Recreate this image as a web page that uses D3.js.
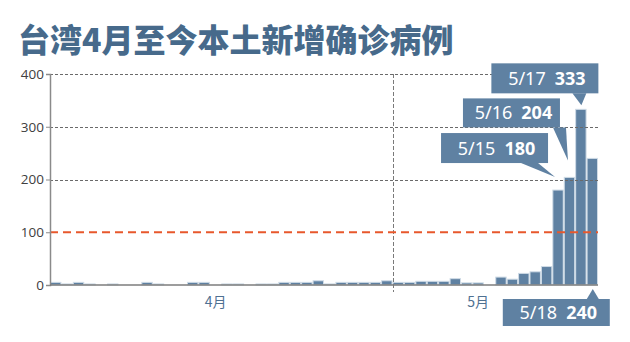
<!DOCTYPE html>
<html>
<head>
<meta charset="utf-8">
<script src="https://cdn.jsdelivr.net/npm/d3@7"></script>
<style>
  body { margin: 0; background: #fff; }
  svg { display: block; }
</style>
</head>
<body>
<svg id="chart" width="630" height="342"></svg>
<script>
const WIDTH = 630;
const HEIGHT = 342;
const MARGIN_LEFT = 50;
const MARGIN_RIGHT = 32;
const MARGIN_TOP = 74;
const MARGIN_BOT = 57;
const BAR_COLOR = "#5f81a2";
const BAR_STROKE = "#cfdbe6";
const TITLE_COLOR = "#476a8b";
const LINE_RED = "#e8582c";

// data
const title = "台湾4月至今本土新增确诊病例";
const days = d3.timeDay.range(new Date(2021, 3, 1), new Date(2021, 4, 19));   // 4/1 .. 5/18
const cases = [
	5, 2, 5, 2, 0, 2, 0, 0, 5, 2,
	0, 0, 5, 5, 0, 2, 2, 0, 2, 2,
	5, 5, 5, 8, 2, 5, 5, 5, 5, 8,
	5, 5, 7, 7, 7, 12, 4, 4, 0, 15,
	11, 22, 25, 35, 180, 204, 333, 240
];
const yTicks = [0, 100, 200, 300, 400];
const threshold = 100;
const monthLabels = ["4月", "5月"];
const monthLabelDays = ["4/15", "5/8"];
const monthStart = "5/1";
const calloutDays = ["5/15", "5/16", "5/17", "5/18"];
const calloutValues = [180, 204, 333, 240];

const fmt = d3.timeFormat("%-m/%-d");
const keys = days.map(fmt);

const svg = d3.select("#chart");
const width = WIDTH - MARGIN_LEFT - MARGIN_RIGHT;
const height = HEIGHT - MARGIN_TOP - MARGIN_BOT;

const x = d3.scaleBand().domain(keys).range([MARGIN_LEFT, MARGIN_LEFT + width]).padding(0);
const y = d3.scaleLinear().domain([0, 400]).range([MARGIN_TOP + height, MARGIN_TOP]);

// title
svg.append("text")
	.attr("x", 18)
	.attr("y", 52)
	.text(title)
	.attr("font-family", "'Noto Sans CJK SC', sans-serif")
	.attr("font-weight", 900)
	.attr("font-size", "32px")
	.attr("fill", TITLE_COLOR);

// bars
svg.selectAll(".bar")
	.data(keys)
  .enter().append("rect")
	.attr("class", "bar")
	.attr("x", d => x(d) + 0.5)
	.attr("width", x.bandwidth() - 1)
	.attr("y", (d, i) => y(cases[i]))
	.attr("height", (d, i) => y(0) - y(cases[i]))
	.attr("fill", BAR_COLOR)
	.attr("stroke", BAR_STROKE)
	.attr("stroke-width", 1);

// grid lines (over the bars)
svg.selectAll(".grid")
	.data(yTicks.filter(t => t > 0 && t !== threshold))
  .enter().append("line")
	.attr("class", "grid")
	.attr("x1", MARGIN_LEFT)
	.attr("x2", MARGIN_LEFT + width)
	.attr("y1", d => Math.round(y(d)) + 0.5)
	.attr("y2", d => Math.round(y(d)) + 0.5)
	.attr("stroke", "#6a6a6a")
	.attr("stroke-width", 1)
	.attr("stroke-dasharray", "3,2");

// month boundary
const xb = Math.round(x(monthStart)) + 0.5;
svg.append("line")
	.attr("x1", xb).attr("x2", xb)
	.attr("y1", y(400)).attr("y2", y(0) + 7)
	.attr("stroke", "#7a7a7a")
	.attr("stroke-width", 1)
	.attr("stroke-dasharray", "4,2");

// red threshold line
svg.append("line")
	.attr("x1", MARGIN_LEFT)
	.attr("x2", MARGIN_LEFT + width)
	.attr("y1", y(threshold))
	.attr("y2", y(threshold))
	.attr("stroke", LINE_RED)
	.attr("stroke-width", 2)
	.attr("stroke-dasharray", "8,5");

// y axis
const yAxis = svg.append("g")
	.attr("class", "y axis")
	.attr("transform", "translate(" + MARGIN_LEFT + ",0)")
	.call(d3.axisLeft(y).tickValues(yTicks).tickSize(4).tickPadding(2));
yAxis.select(".domain").attr("stroke", "#8a8a8a").attr("stroke-width", 1.5);
yAxis.selectAll(".tick line").attr("stroke", "#8a8a8a");
yAxis.selectAll("text")
	.attr("font-family", "'Open Sans', sans-serif")
	.attr("font-size", "13.5px")
	.attr("fill", "#404040");

// baseline
svg.append("line")
	.attr("x1", MARGIN_LEFT)
	.attr("x2", MARGIN_LEFT + width)
	.attr("y1", y(0))
	.attr("y2", y(0))
	.attr("stroke", "#7c7c7c")
	.attr("stroke-width", 1.5);

// month labels
svg.selectAll(".month")
	.data(monthLabels)
  .enter().append("text")
	.attr("class", "month")
	.attr("x", (d, i) => x(monthLabelDays[i]) + x.bandwidth() / 2)
	.attr("y", y(0) + 22)
	.attr("text-anchor", "middle")
	.text(d => d)
	.attr("font-family", "'Noto Sans CJK SC', sans-serif")
	.attr("font-size", "14px")
	.attr("fill", "#4f7192");

// callouts: tip offset from bar top, box offset from tip
const calloutLayout = [
	{ tipDx: -3,  tipDy: -13, bx: -114, by: -44, w: 107, h: 30, t1: -34, t2: -17 },
	{ tipDx: -1.5, tipDy: -17, bx: -105, by: -62, w: 97,  h: 29, t1: -15, t2: -2 },
	{ tipDx: 0.5, tipDy: -4,  bx: -90,  by: -42, w: 107, h: 30, t1: -9,  t2: 5 },
	{ tipDx: 0.5, tipDy: 0,   bx: -90,  by: 10,  w: 107, h: 27, t1: -6,  t2: 6 }
];

calloutDays.forEach((day, i) => {
	const L = calloutLayout[i];
	const cx = x(day) + x.bandwidth() / 2;
	const below = i === 3;
	const tx = cx + L.tipDx;
	const ty = below ? y(0) + 4 : y(calloutValues[i]) + L.tipDy;
	const bx = tx + L.bx, by = ty + L.by;
	const g = svg.append("g").attr("class", "callout");
	const baseY = below ? by : by + L.h;
	g.append("path")
		.attr("d", "M" + (tx + L.t1) + "," + baseY + "L" + tx + "," + ty + "L" + (tx + L.t2) + "," + baseY + "Z")
		.attr("fill", BAR_COLOR);
	g.append("rect")
		.attr("x", bx).attr("y", by)
		.attr("width", L.w).attr("height", L.h)
		.attr("fill", BAR_COLOR);
	const t = g.append("text")
		.attr("x", bx + L.w / 2 + 2)
		.attr("y", by + L.h / 2 + 6.5)
		.attr("text-anchor", "middle")
		.attr("font-family", "'Noto Sans', sans-serif")
		.attr("font-size", "18px")
		.attr("fill", "#fff");
	t.append("tspan").text(day);
	t.append("tspan").attr("dx", 9).attr("font-weight", "bold").text(calloutValues[i]);
});
</script>
</body>
</html>
